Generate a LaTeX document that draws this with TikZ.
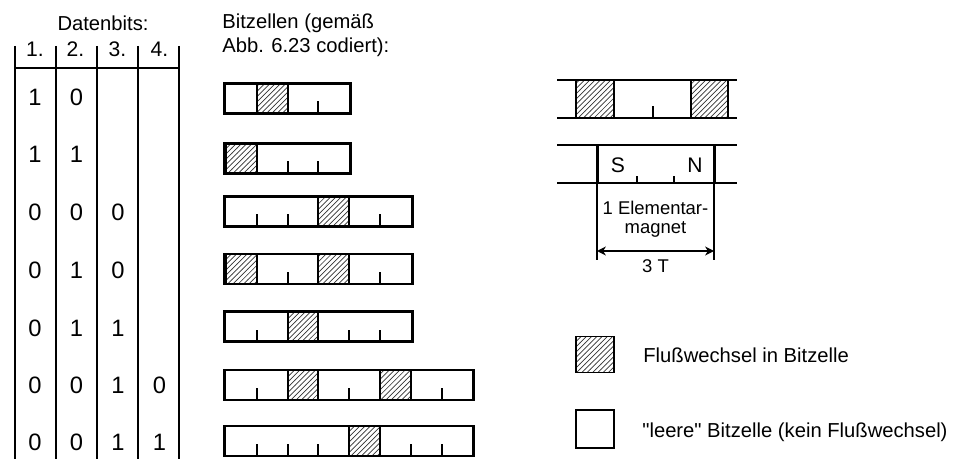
\documentclass[tikz,border=0pt]{standalone}
\usepackage{fontspec}
\setmainfont{Liberation Sans}[Ligatures=TeXOff]
\usetikzlibrary{patterns,arrows.meta}

\begin{document}
\begin{tikzpicture}[x=0.02cm, y=-0.02cm, >={Stealth[length=5pt,width=5pt,inset=1.5pt]}]
      \tikzset{lbl/.style={inner sep=0pt, font=\fontsize{11.5}{13.8}\selectfont},
        small/.style={inner sep=0pt, font=\fontsize{10.5}{10.5}\selectfont},
        digit/.style={inner sep=0pt, font=\fontsize{13.5}{16}\selectfont},
        frame/.style={line width=1.7pt},
        rule/.style={line width=1.1pt},
        tick/.style={line width=1.1pt},
        hatch/.style={pattern=north east lines, pattern color=black!80},
        legbox/.style={draw, line width=1.1pt, minimum width=0.76cm, inner sep=0pt}}
      \useasboundingbox (0,0) rectangle (970,459);

      % table of data bits
      \node[lbl, anchor=base] (datenbits) at (103,30.5) {Datenbits:};
      \foreach \x/\t [count=\i] in {35/1., 75.5/2., 117.5/3., 159.5/4.}
        \node[lbl, font=\fontsize{12}{14}\selectfont, anchor=base] (col\i) at (\x,56.5) {\t};
      \foreach \x in {15,56,97,138,179}
        \draw[rule] (\x,46) -- (\x,459);
      \draw[rule] (15,68) -- (179,68);
      \foreach \yb/\bits [count=\r] in {106/{1,0}, 163/{1,1}, 221/{0,0,0}, 278/{0,1,0},
          336/{0,1,1}, 393/{0,0,1,0}, 450/{0,0,1,1}}
        \foreach \b [count=\c] in \bits
          \node[digit, anchor=base] (d\r-\c) at ({35+41.5*(\c-1)},\yb) {\b};

      % bit cells
      \node[lbl, anchor=base west, align=left] (bitzellen) at (222,53) {Bitzellen (gemäß\\Abb. 6.23 codiert):};
      \foreach \yc/\n/\hat/\tks in {98.5/4/{2}/{3}, 158.5/4/{1}/{2,3}, 211.5/6/{4}/{1,2,5},
          269/6/{1,4}/{2,5}, 326.5/6/{3}/{1,4,5}, 385/8/{3,6}/{1,4,7}, 441/8/{5}/{1,2,3,6,7}} {
        \foreach \h in \hat {
          \fill[hatch] ({226+30.8*(\h-1)},\yc-15) rectangle ({226+30.8*\h},\yc+15);
          \draw[tick] ({226+30.8*(\h-1)},\yc-15) -- ++(0,30) ({226+30.8*\h},\yc-15) -- ++(0,30);
        }
        \foreach \t in \tks
          \draw[tick] ({226+30.8*\t},\yc+15) -- ++(0,-12);
        \draw[frame] (224.5,\yc-15) rectangle ({227.5+30.8*\n},\yc+15);
      }

      % tape with flux changes
      \fill[hatch] (576,80) rectangle (614,118);
      \fill[hatch] (691,80) rectangle (728,118);
      \draw[tick] (576,80) -- (576,118) (614,80) -- (614,118) (691,80) -- (691,118) (728,80) -- (728,118);
      \draw[tick] (653,118) -- ++(0,-12);
      \draw[frame] (557,80) -- (737,80) (557,118) -- (737,118);

      % elementary magnet
      \draw[frame] (557,145) -- (737,145) (557,183) -- (737,183);
      \draw[frame] (597,145) -- (597,183) (714,145) -- (714,183);
      \draw[tick] (637,183) -- ++(0,-7) (674,183) -- ++(0,-7);
      \node[lbl, font=\fontsize{12}{14}\selectfont, anchor=base] (pS) at (618,173) {S};
      \node[lbl, font=\fontsize{12}{14}\selectfont, anchor=base] (pN) at (695,173) {N};
      \draw[rule] (597,183) -- (597,260) (714,183) -- (714,260);
      \coordinate (dimL) at (597,251);
      \coordinate (dimR) at (714,251);
      \draw[rule, <->] (dimL) -- (dimR);
      \node[small, align=center, anchor=north] (elem) at (655.5,201) {1 Elementar-\\magnet};
      \node[small, anchor=base] (dimT) at (655.5,273) {3 T};

      % legend
      \node[legbox, hatch, minimum height=0.72cm] (legFlux) at (595,354.5) {};
      \node[lbl, anchor=base west] (legFluxText) at (643,362) {Flußwechsel in Bitzelle};
      \node[legbox, minimum height=0.76cm] (legEmpty) at (595,429) {};
      \node[lbl, anchor=base west] (legEmptyText) at (642,437) {"leere" Bitzelle (kein Flußwechsel)};
    \end{tikzpicture}
\end{document}
